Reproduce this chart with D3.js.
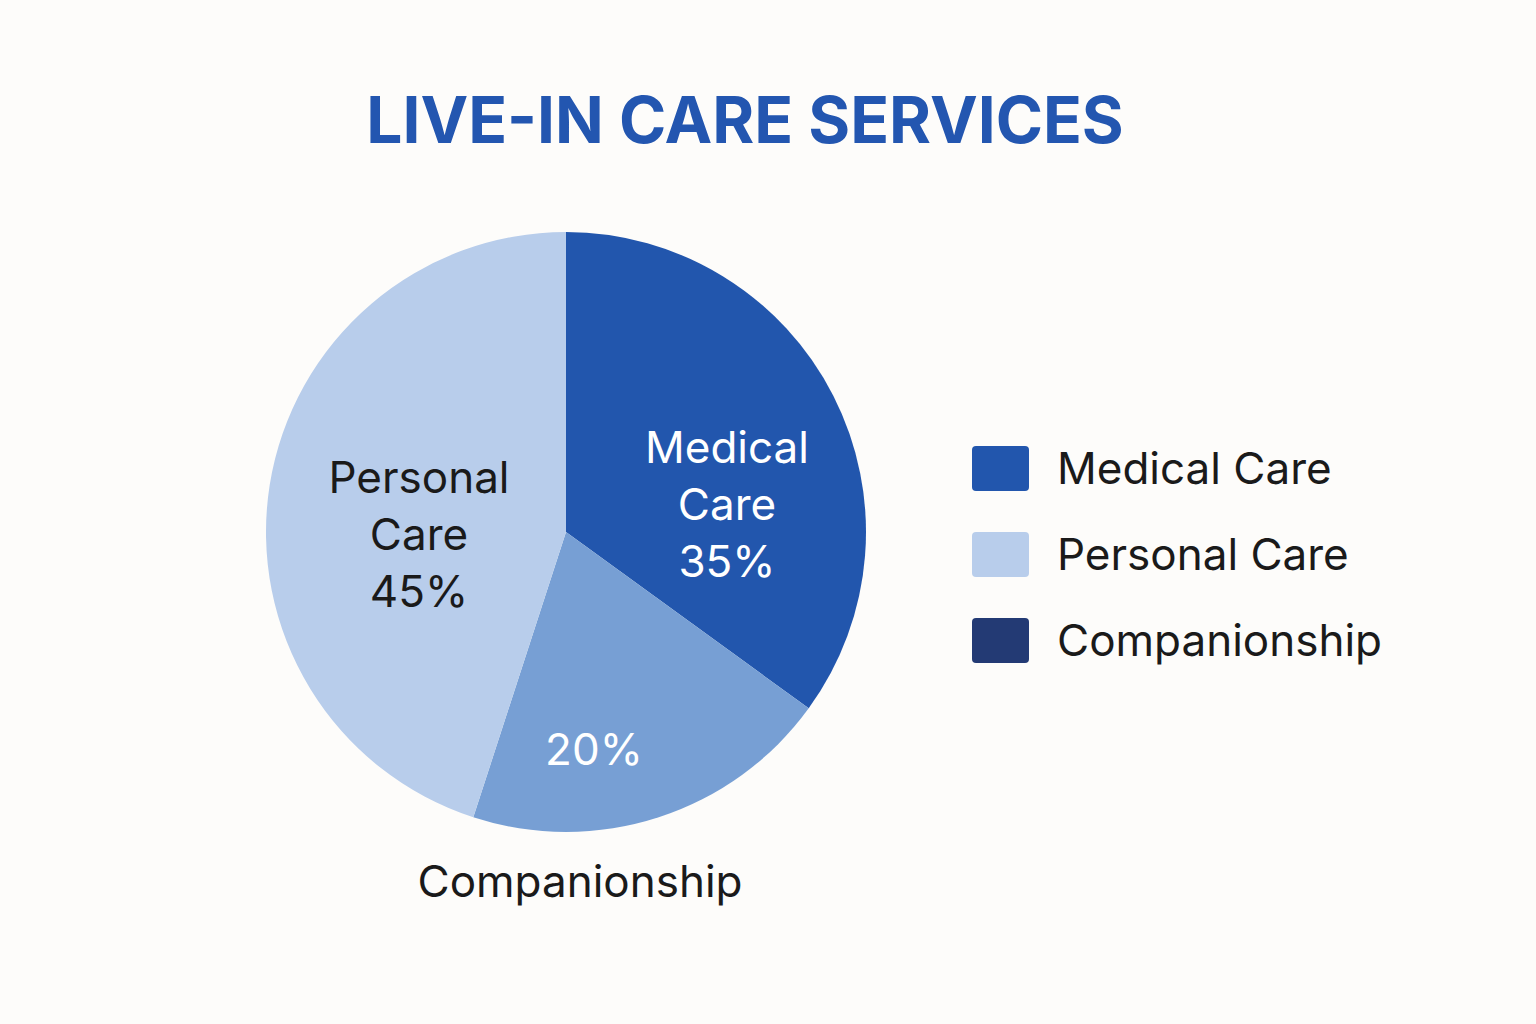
<!DOCTYPE html>
<html><head><meta charset="utf-8">
<script src="https://cdn.jsdelivr.net/npm/d3@7"></script>
<style>body{margin:0;background:#fdfcfa;}</style>
</head><body>
<svg class="chart" width="1536" height="1024"></svg>
<script>
var categories = ["Medical Care","Companionship","Personal Care"];
var values = [35,20,45];
var sliceColors = ["#2256ad","#779fd4","#b8cdeb"];
var legendNames = ["Medical Care","Personal Care","Companionship"];
var legendColors = ["#2256ad","#b8cdeb","#233a74"];

var svg = d3.select(".chart");
var font = "Inter, 'Noto Sans', sans-serif";

svg.append("rect").attr("width",1536).attr("height",1024).attr("fill","#fdfcfa");

svg.append("text").attr("x",745).attr("y",143).attr("text-anchor","middle")
	.style("font-family",font).style("font-weight",700).style("font-size","64px")
	.attr("fill","#2356b0").text("LIVE-IN CARE SERVICES");

var cx=566, cy=532, r=300;
var pie = d3.pie().sort(null).value(function(d){return d;});
var arc = d3.arc().innerRadius(0).outerRadius(r);
var g = svg.append("g").attr("transform","translate("+cx+","+cy+")");
var arcs = pie(values);

g.selectAll("path").data(arcs).enter().append("path")
	.attr("d",arc)
	.attr("fill",function(d,i){return sliceColors[i];});

// in-slice labels
var labels = [
	{lines:["Medical","Care","35%"], x:727, y:463, color:"#ffffff"},
	{lines:["20%"], x:594, y:765, color:"#ffffff"},
	{lines:["Personal","Care","45%"], x:419, y:493, color:"#1a1a1a"}
];
labels.forEach(function(l){
	var t = svg.append("text").attr("text-anchor","middle")
		.style("font-family",font).style("font-size","44px").attr("fill",l.color);
	l.lines.forEach(function(s,i){
		t.append("tspan").attr("x",l.x).attr("y",l.y+i*57).text(s);
	});
});

svg.append("text").attr("x",580).attr("y",897).attr("text-anchor","middle")
	.style("font-family",font).style("font-size","44px").attr("fill","#1a1a1a")
	.text("Companionship");

// legend
var leg = svg.selectAll(".leg").data(legendNames).enter().append("g")
	.attr("class","leg")
	.attr("transform",function(d,i){return "translate(972,"+(446+i*86)+")";});
leg.append("rect").attr("width",57).attr("height",45).attr("rx",4)
	.attr("fill",function(d,i){return legendColors[i];});
leg.append("text").attr("x",85).attr("y",38)
	.style("font-family",font).style("font-size","44px").attr("fill","#1a1a1a")
	.text(function(d){return d;});
</script>
</body></html>
